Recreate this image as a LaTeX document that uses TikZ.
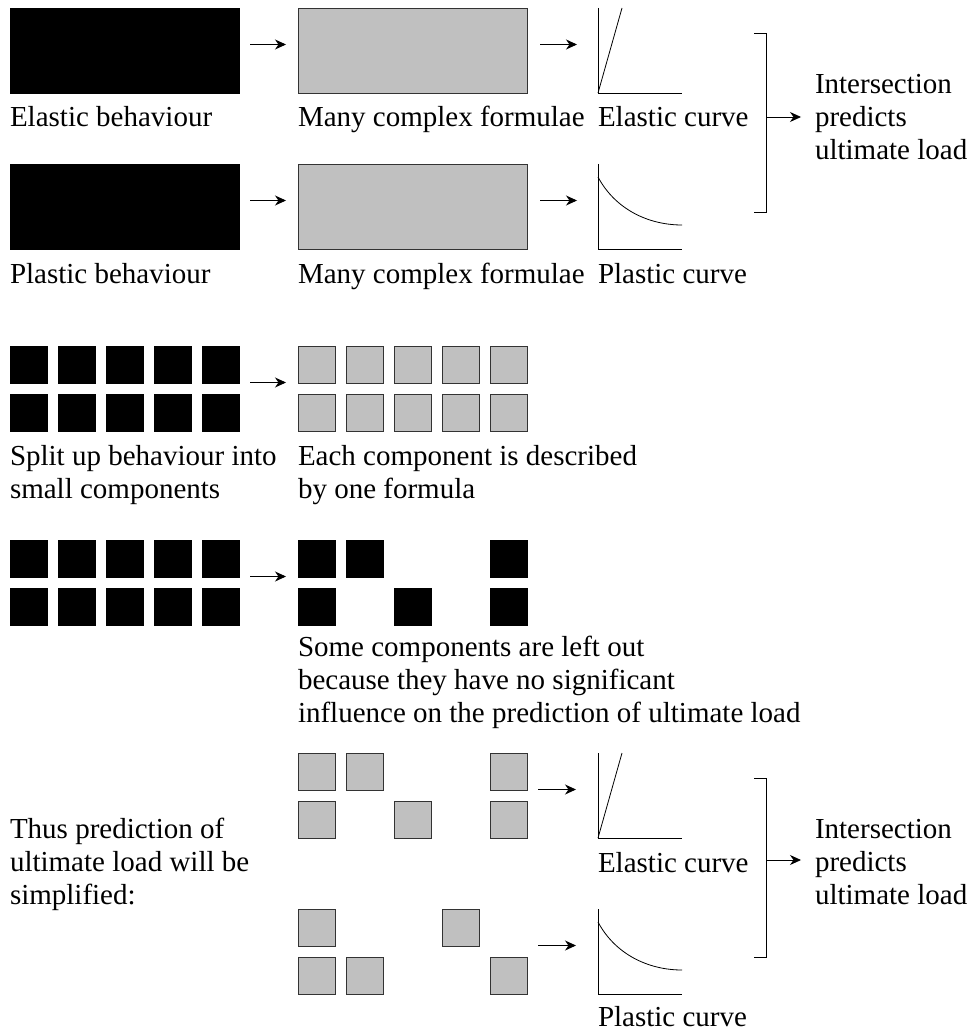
\documentclass[tikz,border=0pt]{standalone}
\usepackage{fontspec}
\setmainfont{Liberation Serif}
\usetikzlibrary{calc,arrows.meta}
\definecolor{boxgray}{RGB}{192,192,192}
\newcommand\figfont{\fontsize{29}{33}\selectfont}
\begin{document}
\begin{tikzpicture}[x=1pt,y=-1pt,
  blk/.style={draw=black, fill=black, line width=0.6pt, inner sep=0pt, outer sep=0pt, anchor=north west},
  gry/.style={draw=black!80, fill=boxgray, line width=0.8pt, inner sep=0pt, outer sep=0pt, anchor=north west},
  big/.style={minimum width=229pt, minimum height=85pt},
  sq/.style={minimum width=37pt, minimum height=37pt},
  chart/.style={inner sep=0pt, outer sep=0pt, anchor=north west, minimum width=84pt, minimum height=85pt},
  lbl/.style={anchor=base west, inner sep=0pt, outer sep=0pt, font=\figfont},
  arr/.style={line width=0.9pt, -{Stealth[length=11pt,width=10pt,inset=3.5pt]}},
  ln/.style={line width=0.8pt}]
\useasboundingbox (0,0) rectangle (970,1032);

% ---------- Section 1 ----------
\node[blk,big] (b1) at (10,8) {};
\node[gry,big] (g1) at (298,8) {};
\node[chart] (c1) at (598,8) {};
\node[blk,big] (b2) at (10,164) {};
\node[gry,big] (g2) at (298,164) {};
\node[chart] (c2) at (598,164) {};

\node[lbl] (lb1) at (10,127) {Elastic behaviour};
\node[lbl] (lf1) at (298,127) {Many complex formulae};
\node[lbl] (lc1) at (598,127) {Elastic curve};
\node[lbl] (lb2) at (10,283) {Plastic behaviour};
\node[lbl] (lf2) at (298,283) {Many complex formulae};
\node[lbl] (lc2) at (598,283) {Plastic curve};

\draw[arr] ($(b1.east)+(11,-6)$) -- ($(g1.west)+(-12,-6)$);
\draw[arr] ($(g1.east)+(13,-6)$) -- ($(c1.west)+(-21,-6)$);
\draw[arr] ($(b2.east)+(11,-6)$) -- ($(g2.west)+(-12,-6)$);
\draw[arr] ($(g2.east)+(13,-6)$) -- ($(c2.west)+(-21,-6)$);

% elastic chart
\draw[ln] (c1.north west) -- (c1.south west) -- (c1.south east);
\draw[ln] (c1.south west) -- ($(c1.north west)+(24,0)$);
% plastic chart
\draw[ln] (c2.north west) -- (c2.south west) -- (c2.south east);
\draw[ln] ($(c2.north west)+(0,13)$) .. controls ($(c2.north west)+(17,45)$) and ($(c2.north west)+(50,61)$) .. ($(c2.north east)+(0,61)$);

% bracket
\coordinate (k1t) at (754,33);
\coordinate (k1b) at (754,212);
\coordinate (k1m) at (766,117);
\draw[ln] (k1t) -- ++(12,0) -- ($(k1b)+(12,0)$) -- (k1b);
\node[lbl] (i1a) at (815,94) {Intersection};
\node[lbl] (i1b) at (815,127) {predicts};
\node[lbl] (i1c) at (815,160) {ultimate load};
\draw[arr] (k1m) -- ($(k1m -| i1b.west)+(-14,0)$);

% ---------- Section 2 ----------
\foreach \r in {1,2} {
  \foreach \c in {1,...,5} {
    \node[blk,sq] (P-\r-\c) at ({10+48*(\c-1)},{346+48*(\r-1)}) {};
    \node[gry,sq] (Q-\r-\c) at ({298+48*(\c-1)},{346+48*(\r-1)}) {};
  }
}
\draw[arr] ($(P-1-5.south east)!.5!(P-2-5.north east)+(11,-6)$) -- ($(Q-1-1.south west)!.5!(Q-2-1.north west)+(-12,-6)$);
\node[lbl] (s2a) at (10,465) {Split up behaviour into};
\node[lbl] (s2b) at (10,498) {small components};
\node[lbl] (s2c) at (298,465) {Each component is described};
\node[lbl] (s2d) at (298,498) {by one formula};

% ---------- Section 3 ----------
\foreach \r in {1,2} {
  \foreach \c in {1,...,5} {
    \node[blk,sq] (R-\r-\c) at ({10+48*(\c-1)},{540+48*(\r-1)}) {};
  }
}
\foreach \r/\c in {1/1,1/2,1/5,2/1,2/3,2/5} {
  \node[blk,sq] (T-\r-\c) at ({298+48*(\c-1)},{540+48*(\r-1)}) {};
}
\draw[arr] ($(R-1-5.south east)!.5!(R-2-5.north east)+(11,-6)$) -- ($(T-1-1.south west)!.5!(T-2-1.north west)+(-12,-6)$);
\node[lbl] (s3a) at (298,656) {Some components are left out};
\node[lbl] (s3b) at (298,689) {because they have no significant};
\node[lbl] (s3c) at (298,722) {influence on the prediction of ultimate load};

% ---------- Section 4 ----------
\foreach \r/\c in {1/1,1/2,1/5,2/1,2/3,2/5} {
  \node[gry,sq] (A-\r-\c) at ({298+48*(\c-1)},{753+48*(\r-1)}) {};
}
\foreach \r/\c in {1/1,1/4,2/1,2/2,2/5} {
  \node[gry,sq] (B-\r-\c) at ({298+48*(\c-1)},{909+48*(\r-1)}) {};
}
\node[chart] (c3) at (598,753) {};
\node[chart] (c4) at (598,909) {};
\draw[arr] ($(c3.west -| A-2-5.east)+(11,-6)$) -- ($(c3.west)+(-22,-6)$);
\draw[arr] ($(c4.west -| B-2-5.east)+(11,-6)$) -- ($(c4.west)+(-22,-6)$);

\draw[ln] (c3.north west) -- (c3.south west) -- (c3.south east);
\draw[ln] (c3.south west) -- ($(c3.north west)+(24,0)$);
\draw[ln] (c4.north west) -- (c4.south west) -- (c4.south east);
\draw[ln] ($(c4.north west)+(0,13)$) .. controls ($(c4.north west)+(17,45)$) and ($(c4.north west)+(50,61)$) .. ($(c4.north east)+(0,61)$);

\node[lbl] (lc3) at (598,872) {Elastic curve};
\node[lbl] (lc4) at (598,1026) {Plastic curve};

\node[lbl] (t4a) at (10,838) {Thus prediction of};
\node[lbl] (t4b) at (10,871) {ultimate load will be};
\node[lbl] (t4c) at (10,904) {simplified:};

\coordinate (k2t) at (754,778);
\coordinate (k2b) at (754,957);
\coordinate (k2m) at (766,860);
\draw[ln] (k2t) -- ++(12,0) -- ($(k2b)+(12,0)$) -- (k2b);
\node[lbl] (i2a) at (815,838) {Intersection};
\node[lbl] (i2b) at (815,871) {predicts};
\node[lbl] (i2c) at (815,904) {ultimate load};
\draw[arr] (k2m) -- ($(k2m -| i2b.west)+(-14,0)$);
\end{tikzpicture}
\end{document}
